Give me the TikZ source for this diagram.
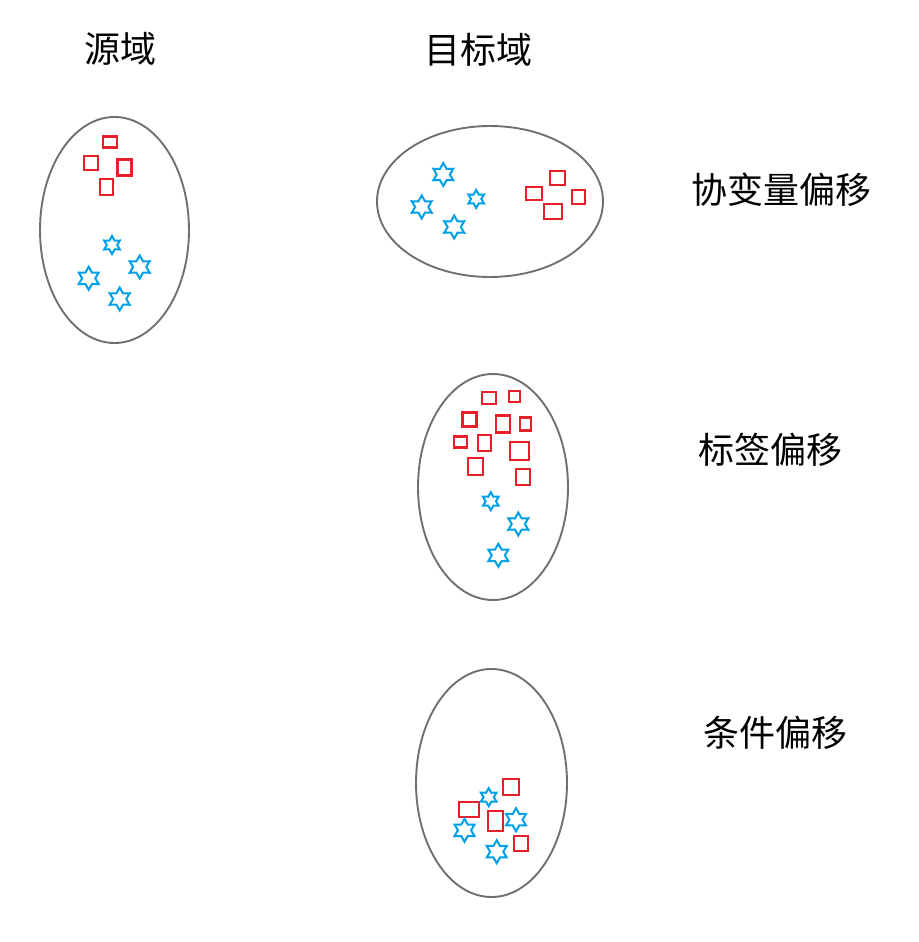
\documentclass[tikz,border=0pt]{standalone}
\usepackage{fontspec}
\setmainfont{Noto Sans CJK SC}
\usepackage{tikz}
\usetikzlibrary{shapes.geometric}
\definecolor{myred}{RGB}{232,32,42}
\definecolor{myblue}{RGB}{0,160,233}
\definecolor{mygray}{RGB}{112,112,112}
\tikzset{
  domainell/.style={ellipse, draw=mygray, line width=1.9pt, inner sep=0pt},
  redsq/.style={draw=myred, line width=2.2pt},
  bigstar/.style={star, star points=6, star point ratio=1.75, draw=myblue, line width=2pt, inner sep=0pt, minimum size=23pt},
  smallstar/.style={bigstar, minimum size=18pt},
  lbl/.style={font=\fontsize{36}{40}\selectfont, inner sep=0pt}
}

\begin{document}
\begin{tikzpicture}[x=1pt, y=-1pt]
  \useasboundingbox (0,0) rectangle (918,942);

  % Column titles
  \node[lbl] (srclbl) at (120.5,49) {源域};
  \node[lbl] (tgtlbl) at (478,50) {目标域};

  % Row labels
  \node[lbl] (covlbl) at (781,190) {协变量偏移};
  \node[lbl] (labellbl) at (770,450) {标签偏移};
  \node[lbl] (condlbl) at (775,733) {条件偏移};

  % Source domain
  \node[domainell, minimum width=149pt, minimum height=226pt] (src) at (114.5,230) {};
  \foreach \x/\y/\w/\h in {110/142/14.6/11, 91/163/14/14, 124.5/167.5/14/16, 106.7/187/13/16}
    \draw[redsq] (\x-\w/2,\y-\h/2) rectangle ++(\w,\h);
  \node[smallstar] (srcs1) at (112,245) {};
  \foreach \x/\y [count=\i from 2] in {139.7/267, 88.7/278.3, 119.7/299}
    \node[bigstar] (srcs\i) at (\x,\y) {};

  % Target domain: covariate shift
  \node[domainell, minimum width=226pt, minimum height=151pt] (cov) at (490,201.5) {};
  \foreach \x/\y/\w/\h in {557.5/178/15/14, 534/193.4/16/13, 578.7/197/12.7/14, 553.3/211.5/18/15}
    \draw[redsq] (\x-\w/2,\y-\h/2) rectangle ++(\w,\h);
  \node[smallstar] (covs1) at (476.2,199) {};
  \foreach \x/\y [count=\i from 2] in {443.3/174.5, 421.7/207, 454.2/227}
    \node[bigstar] (covs\i) at (\x,\y) {};

  % Target domain: label shift
  \node[domainell, minimum width=150pt, minimum height=226pt] (lab) at (493,487) {};
  \foreach \x/\y/\w/\h in {488.7/398/14/11.7, 514.5/396.5/11/11.7, 469.5/419.5/14/14,
      502.8/424/14/17, 525.5/424/11/13, 460.3/442/12.7/11, 484.7/443/12.7/16,
      519.5/450.8/19/18, 475.5/466.7/14.4/16.7, 523/477/14/15.7}
    \draw[redsq] (\x-\w/2,\y-\h/2) rectangle ++(\w,\h);
  \node[smallstar] (labs1) at (490.8,501.2) {};
  \foreach \x/\y [count=\i from 2] in {518.3/524, 498.3/555.3}
    \node[bigstar] (labs\i) at (\x,\y) {};

  % Target domain: conditional shift
  \node[domainell, minimum width=151pt, minimum height=228pt] (cond) at (491.5,783) {};
  \foreach \x/\y/\w/\h in {511.3/787/16/16, 469.3/809.8/20/15, 495.8/820.8/15/19.7, 521.2/843.3/14/14.7}
    \draw[redsq] (\x-\w/2,\y-\h/2) rectangle ++(\w,\h);
  \node[smallstar] (conds1) at (488.7,797.2) {};
  \foreach \x/\y [count=\i from 2] in {516/819.7, 464.5/830.3, 496.7/851.7}
    \node[bigstar] (conds\i) at (\x,\y) {};
\end{tikzpicture}
\end{document}
